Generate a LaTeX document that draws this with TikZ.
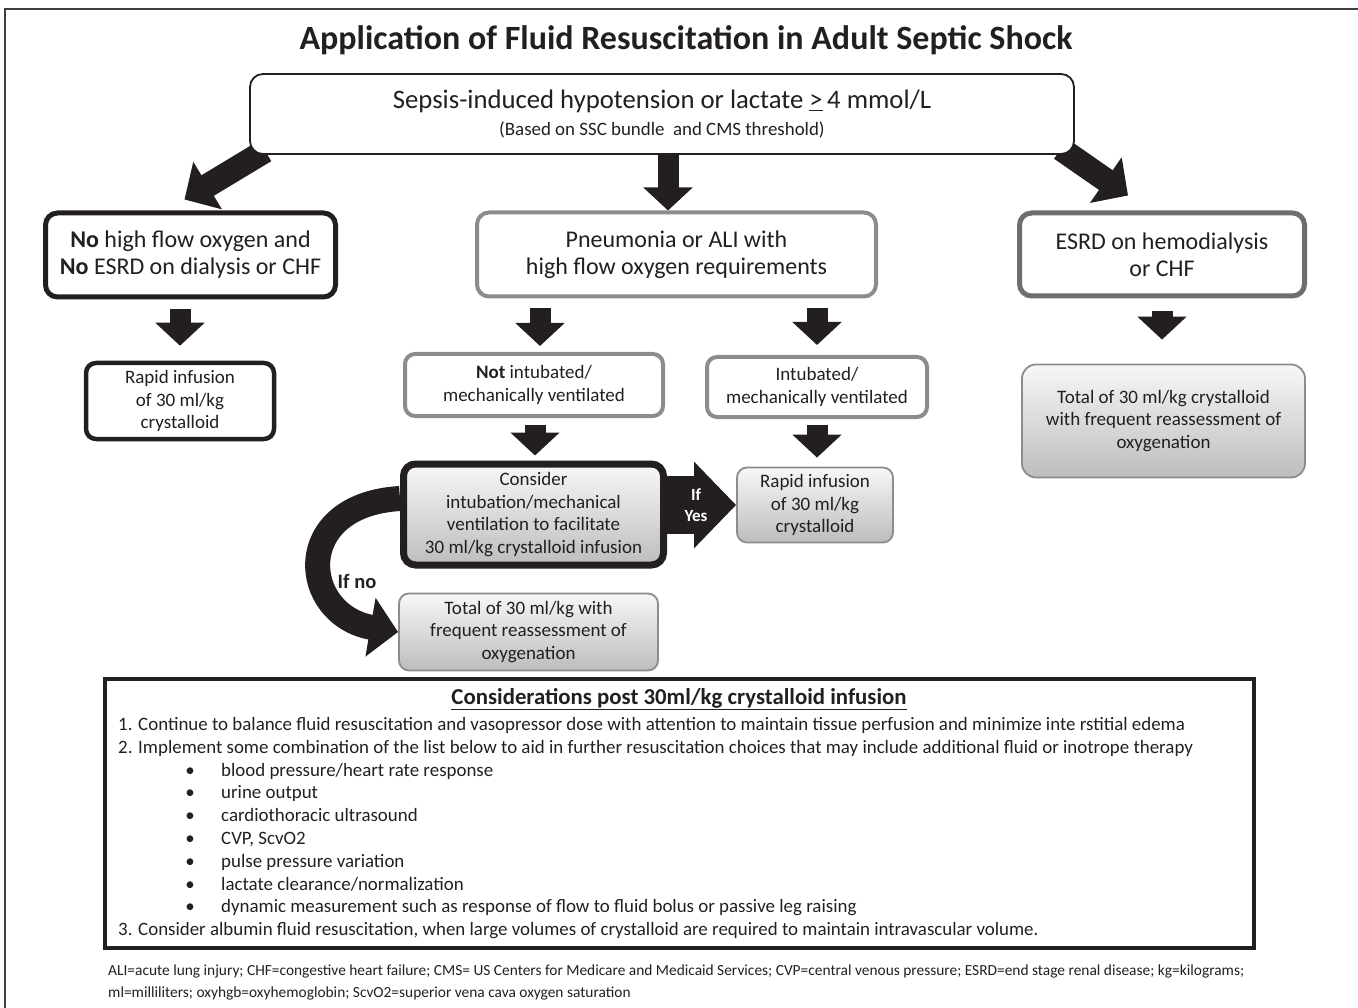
\documentclass[tikz,border=0pt]{standalone}
\usepackage{fontspec}
\setmainfont{Carlito}
\usetikzlibrary{arrows.meta,positioning,backgrounds}
\definecolor{ink}{HTML}{231F20}
\definecolor{midgray}{HTML}{8C8C8C}
\definecolor{edgegray}{HTML}{6D6E71}

\begin{document}
\begin{tikzpicture}[x=1pt,y=-1pt,every node/.style={text=ink,align=center},
    blackbox/.style={draw=ink,line width=5pt,rounded corners=12pt,fill=white},
    graybox/.style={draw=midgray,line width=4pt,rounded corners=12pt,fill=white},
    shadebox/.style={draw=midgray,line width=1.8pt,rounded corners=12pt,top color=black!3,bottom color=black!26},
    big/.style={font=\fontsize{24}{27}\selectfont},
    small/.style={font=\fontsize{19}{22.6}\selectfont},
    body/.style={font=\fontsize{18.9}{23}\selectfont,anchor=base west,inner sep=0pt},
    blockarrow/.style={draw=ink,line width=21pt,-{Triangle[width=48pt,length=23pt]}}]
    \useasboundingbox (0,0) rectangle (1358,1008);
    \draw[draw=black!75,line width=2pt] (5,1010) -- (5,9) -- (1360,9);

    \node[font=\fontsize{34}{38}\selectfont\bfseries] (title) at (686,40) {Application of Fluid Resuscitation in Adult Septic Shock};

    \node[draw=ink,line width=1.8pt,rounded corners=13pt,fill=white,minimum width=824pt,minimum height=80pt,font=\fontsize{18.9}{27}\selectfont] (sepsis) at (662,114)
      {{\fontsize{26.7}{27}\selectfont Sepsis-induced hypotension or lactate \underline{>}\,4 mmol/L}\\(Based on SSC bundle~ and CMS threshold)};

    \node[blackbox,big,minimum width=290pt,minimum height=84pt] (noflow) at (190.5,255) {\textbf{No} high flow oxygen and\\\textbf{No} ESRD on dialysis or CHF};
    \node[graybox,big,minimum width=399pt,minimum height=84pt] (pneu) at (676.5,254.5) {Pneumonia or ALI with\\high flow oxygen requirements};
    \node[graybox,draw=edgegray,line width=5pt,big,minimum width=285pt,minimum height=83pt] (esrd) at (1162,254.5) {ESRD on hemodialysis\\or CHF};

    \node[blackbox,line width=4.5pt,rounded corners=10pt,small,minimum width=188pt,minimum height=76pt] (rapidL) at (180,401) {Rapid infusion\\of 30 ml/kg\\crystalloid};
    \node[graybox,rounded corners=10pt,small,minimum width=258pt,minimum height=62pt] (notint) at (534,385) {\textbf{Not} intubated/\\mechanically ventilated};
    \node[graybox,rounded corners=10pt,small,minimum width=220pt,minimum height=60pt] (intub) at (817,387) {Intubated/\\mechanically ventilated};
    \node[shadebox,rounded corners=14pt,small,minimum width=283pt,minimum height=113pt] (totalR) at (1163.5,421) {Total of 30 ml/kg crystalloid\\with frequent reassessment of\\oxygenation};

    \node[shadebox,draw=ink,line width=7pt,small,minimum width=260pt,minimum height=101pt] (consider) at (533.5,514.5) {Consider\\intubation/mechanical\\ventilation to facilitate\\30 ml/kg crystalloid infusion};
    \node[shadebox,rounded corners=10pt,small,minimum width=156pt,minimum height=75pt] (rapidM) at (815,505) {Rapid infusion\\of 30 ml/kg\\crystalloid};
    \node[shadebox,rounded corners=10pt,small,minimum width=259pt,minimum height=77pt] (totalM) at (528.5,632) {Total of 30 ml/kg with\\frequent reassessment of\\oxygenation};
    \node[font=\fontsize{20.5}{23}\selectfont\bfseries] (ifno) at (357,581) {If no};

    \begin{scope}[on background layer]
      \draw[blockarrow,line width=24pt,-{Triangle[width=54pt,length=27pt]}] ([xshift=16pt,yshift=4pt]sepsis.south west) -- ([xshift=-6pt,yshift=11pt]noflow.north);
      \draw[blockarrow] ([yshift=4pt]sepsis.south -| 668,0) -- (pneu.north -| 668,0);
      \draw[blockarrow,line width=24pt,-{Triangle[width=54pt,length=27pt]}] ([xshift=-14pt,yshift=6pt]sepsis.south east) -- ([xshift=-34pt,yshift=15pt]esrd.north);
      \draw[blockarrow] ([yshift=-10pt]noflow.south -| rapidL.north) -- ([yshift=15pt]rapidL.north);
      \draw[blockarrow] ([yshift=-10pt]pneu.south -| 540,0) -- ([yshift=6pt]notint.north -| 540,0);
      \draw[blockarrow] ([yshift=-10pt]pneu.south -| intub.north) -- ([yshift=10pt]intub.north);
      \draw[blockarrow] ([yshift=-7pt]notint.south -| 535,0) -- ([yshift=5pt]consider.north -| 535,0);
      \draw[blockarrow] ([yshift=-6pt]intub.south) -- ([yshift=9pt]rapidM.north -| intub.south);
      \draw[blockarrow] ([yshift=-13pt]esrd.south) -- ([yshift=24pt]totalR.north -| esrd.south);
      \draw[draw=ink,line width=58pt,-{Triangle[width=84pt,length=42pt]}] (consider.east |- rapidM.west) -- (rapidM.west)
        node[pos=0.42,text=white,font=\fontsize{17}{21}\selectfont\bfseries] (ifyes) {If\\Yes};
      \draw[draw=ink,line width=25pt,-{Triangle[width=58pt,length=28pt]}] ([yshift=16pt]consider.west) .. controls (290,505) and (300,615) .. (totalM.west);
    \end{scope}

    \node[draw=ink,line width=4pt,minimum width=1149pt,minimum height=269pt] (cons) at (679.5,813.5) {};
    \node[font=\fontsize{22.8}{24}\selectfont\bfseries] (constitle) at (679,699) {\underline{Considerations post 30ml/kg crystalloid infusion}};
    \node[body] (c1) at (118,730) {1. Continue to balance fluid resuscitation and vasopressor dose with attention to maintain tissue perfusion and minimize inte rstitial edema};
    \node[body] (c2) at (118,753) {2. Implement some combination of the list below to aid in further resuscitation choices that may include additional fluid or inotrope therapy};
    \foreach \item [count=\i] in {blood pressure/heart rate response,urine output,cardiothoracic ultrasound,{CVP, ScvO2},pulse pressure variation,lactate clearance/normalization,dynamic measurement such as response of flow to fluid bolus or passive leg raising}{
      \node[body,anchor=base] (dot\i) at (190,{776+22.8*(\i-1)}) {\textbullet};
      \node[body] (item\i) at (221,{776+22.8*(\i-1)}) {\item};
    }
    \node[body] (c3) at (118,935) {3. Consider albumin fluid resuscitation, when large volumes of crystalloid are required to maintain intravascular volume.};

    \node[font=\fontsize{15.4}{22}\selectfont,anchor=north west,align=left,inner sep=0pt] (abbr) at (108,965)
      {ALI=acute lung injury; CHF=congestive heart failure; CMS= US Centers for Medicare and Medicaid Services; CVP=central venous pressure; ESRD=end stage renal disease; kg=kilograms;\\
       ml=milliliters; oxyhgb=oxyhemoglobin; ScvO2=superior vena cava oxygen saturation};
\end{tikzpicture}
\end{document}
